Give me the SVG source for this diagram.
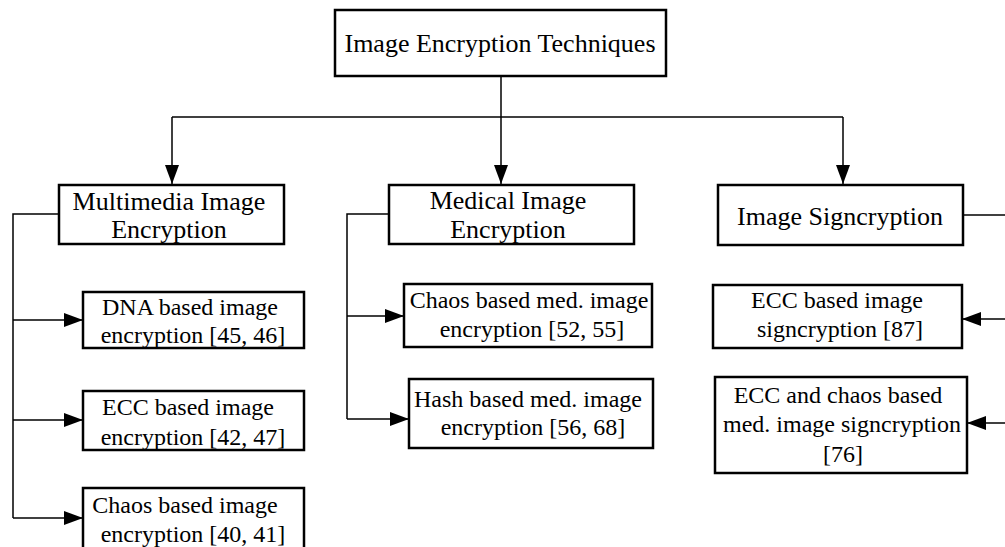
<svg xmlns="http://www.w3.org/2000/svg" width="1005" height="547" viewBox="0 0 1005 547">
  <style>
    .box { fill: #ffffff; stroke: #000000; stroke-width: 2.5; }
    .ln { fill: none; stroke: #000000; stroke-width: 1.5; }
    .arr { fill: none; stroke: #000000; stroke-width: 1.5; marker-end: url(#head); }
    .lbl { fill: #000000; text-anchor: middle; font-family: "Liberation Serif", "Times New Roman", serif; }
    .t1 { font-size: 26px; }
    .t2 { font-size: 24px; }
  </style>
  <defs>
    <marker id="head" markerUnits="userSpaceOnUse" markerWidth="20" markerHeight="16" refX="19" refY="7" orient="auto">
      <path d="M0,0 L19,7 L0,14 Z" fill="#000000"/>
    </marker>
  </defs>
  <rect width="1005" height="547" fill="#ffffff"/>

  <!-- connectors -->
  <g id="connectors">
    <line class="ln" x1="501" y1="76" x2="501" y2="117"/>
    <line class="ln" x1="172" y1="117" x2="843" y2="117"/>
    <line class="arr" x1="172" y1="117" x2="172" y2="184"/>
    <line class="arr" x1="501" y1="117" x2="501" y2="184"/>
    <line class="arr" x1="843" y1="117" x2="843" y2="184"/>

    <polyline class="ln" points="59,214 13,214 13,518"/>
    <line class="arr" x1="13" y1="320" x2="83" y2="320"/>
    <line class="arr" x1="13" y1="420" x2="83" y2="420"/>
    <line class="arr" x1="13" y1="518" x2="83" y2="518"/>

    <polyline class="ln" points="389,214 347,214 347,419"/>
    <line class="arr" x1="347" y1="316" x2="404" y2="316"/>
    <line class="arr" x1="347" y1="419" x2="409" y2="419"/>

    <line class="ln" x1="963" y1="215" x2="1005" y2="215"/>
    <line class="arr" x1="1005" y1="319" x2="962" y2="319"/>
    <line class="arr" x1="1005" y1="423" x2="967" y2="423"/>
  </g>

  <g id="root">
    <rect class="box" x="335" y="10" width="331" height="66"/>
    <text class="lbl t1" x="500" y="52">Image Encryption Techniques</text>
  </g>

  <g id="multimedia">
    <rect class="box" x="59" y="185" width="225" height="59"/>
    <text class="lbl t1" x="169" y="210">Multimedia Image</text>
    <text class="lbl t1" x="169" y="238">Encryption</text>
  </g>

  <g id="medical">
    <rect class="box" x="389" y="185" width="245" height="59"/>
    <text class="lbl t1" x="508" y="209">Medical Image</text>
    <text class="lbl t1" x="508" y="238">Encryption</text>
  </g>

  <g id="signcryption">
    <rect class="box" x="718" y="185" width="245" height="60"/>
    <text class="lbl t1" x="840" y="225">Image Signcryption</text>
  </g>

  <g id="dna">
    <rect class="box" x="83" y="292" width="221" height="56"/>
    <text class="lbl t2" x="190" y="315">DNA based image</text>
    <text class="lbl t2" x="193" y="343">encryption [45, 46]</text>
  </g>

  <g id="ecc">
    <rect class="box" x="83" y="391" width="221" height="59"/>
    <text class="lbl t2" x="188" y="415">ECC based image</text>
    <text class="lbl t2" x="193" y="445">encryption [42, 47]</text>
  </g>

  <g id="chaos">
    <rect class="box" x="83" y="488" width="221" height="62"/>
    <text class="lbl t2" x="185" y="513">Chaos based image</text>
    <text class="lbl t2" x="193" y="542">encryption [40, 41]</text>
  </g>

  <g id="chaos-med">
    <rect class="box" x="404" y="284" width="248" height="63"/>
    <text class="lbl t2" x="529" y="308">Chaos based med. image</text>
    <text class="lbl t2" x="532" y="337">encryption [52, 55]</text>
  </g>

  <g id="hash-med">
    <rect class="box" x="409" y="379" width="244" height="69"/>
    <text class="lbl t2" x="528" y="407">Hash based med. image</text>
    <text class="lbl t2" x="533" y="435">encryption [56, 68]</text>
  </g>

  <g id="ecc-sign">
    <rect class="box" x="713" y="285" width="249" height="63"/>
    <text class="lbl t2" x="837" y="308">ECC based image</text>
    <text class="lbl t2" x="840" y="337">signcryption [87]</text>
  </g>

  <g id="ecc-chaos-sign">
    <rect class="box" x="715" y="377" width="252" height="96"/>
    <text class="lbl t2" x="838" y="403">ECC and chaos based</text>
    <text class="lbl t2" x="842" y="432">med. image signcryption</text>
    <text class="lbl t2" x="843" y="462">[76]</text>
  </g>
</svg>
